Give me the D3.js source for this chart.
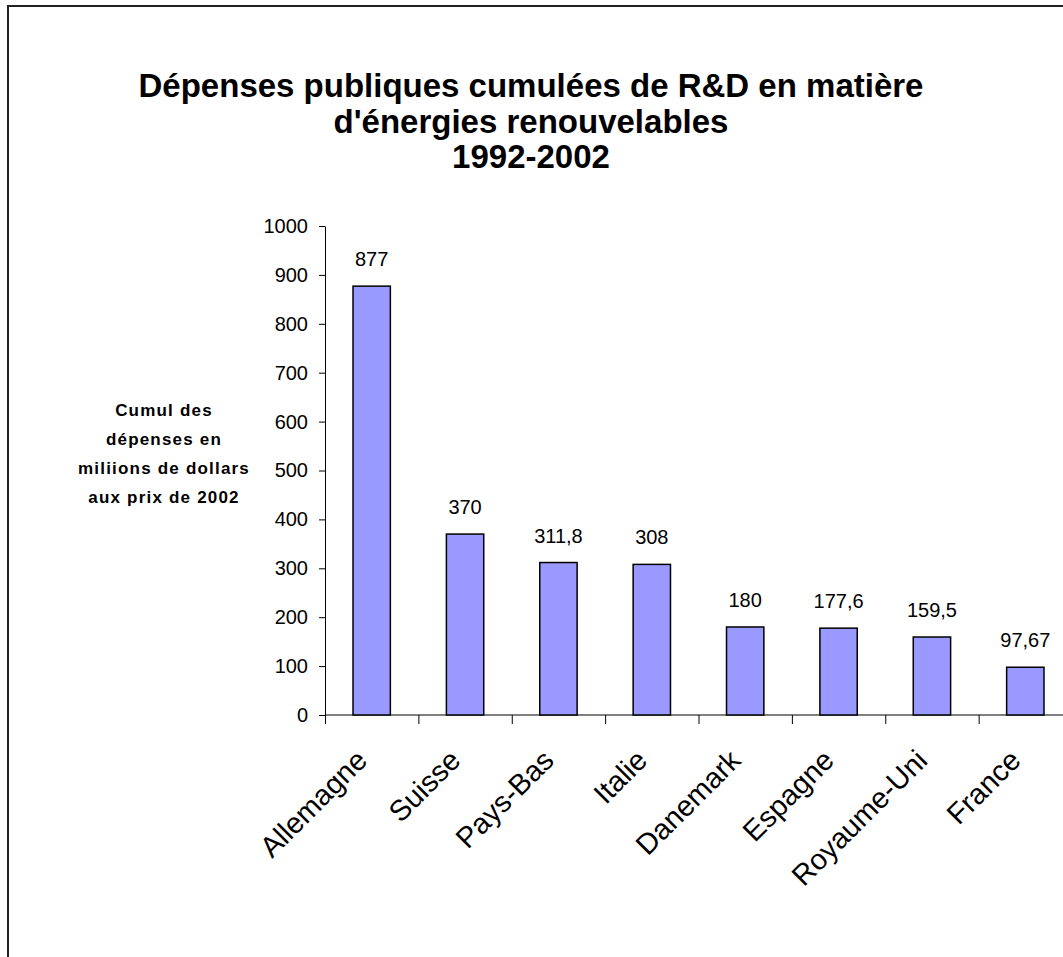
<!DOCTYPE html>
<html>
<head>
<meta charset="utf-8">
<script src="https://cdn.jsdelivr.net/npm/d3@7"></script>
<style>
  html, body { margin: 0; background: #fff; overflow: hidden; }
  svg { display: block; overflow: hidden; font-family: Arial, "Liberation Sans", sans-serif; }
</style>
</head>
<body>
<svg id="chart"></svg>
<script>
// data
const countries = ['Allemagne', 'Suisse', 'Pays-Bas', 'Italie', 'Danemark', 'Espagne', 'Royaume-Uni', 'France'];
const spending = [877, 370, 311.8, 308, 180, 177.6, 159.5, 97.67];
const valueLabels = ['877', '370', '311,8', '308', '180', '177,6', '159,5', '97,67'];
const yTicks = [0, 100, 200, 300, 400, 500, 600, 700, 800, 900, 1000];
const titleLines = ['Dépenses publiques cumulées de R&D en matière', "d'énergies renouvelables", '1992-2002'];
const yTitleLines = ['Cumul des', 'dépenses en', 'miliions de dollars', 'aux prix de 2002'];

const width = 1063, height = 957;
const margin = {top: 226, right: -9, bottom: 242, left: 325};
const innerWidth = width - margin.left - margin.right;
const innerHeight = height - margin.top - margin.bottom;

const svg = d3.select('#chart')
    .attr('width', width)
    .attr('height', height);

// outer frame: only left and top edges show in the picture
svg.append('path')
    .attr('d', `M8,${height} V6 H${width}`)
    .attr('fill', 'none')
    .attr('stroke', '#222')
    .attr('stroke-width', 2);

// title
svg.append('text')
    .attr('text-anchor', 'middle')
    .style('font-size', '33px')
    .style('font-weight', 'bold')
    .selectAll('tspan')
    .data(titleLines)
    .join('tspan')
    .attr('x', 531)
    .attr('y', (d, i) => 97 + i * 35.5)
    .text(d => d);

const chart = svg.append('g')
    .attr('transform', `translate(${margin.left}, ${margin.top})`);

const xscale = d3.scaleBand()
    .domain(countries)
    .range([0, innerWidth])
    .paddingInner(0.6)
    .paddingOuter(0.3);

const yscale = d3.scaleLinear()
    .domain([0, 1000])
    .range([innerHeight, 0]);

// y axis
const yaxis = d3.axisLeft(yscale)
    .tickValues(yTicks)
    .tickFormat(d3.format('d'))
    .tickSize(6)
    .tickSizeOuter(0)
    .tickPadding(11);

chart.append('g')
    .call(yaxis)
    .call(g => g.selectAll('text').style('font-size', '20px').attr('fill', '#000'))
    .call(g => g.selectAll('line, path').attr('stroke', '#000'));

// x axis line + ticks at category boundaries
chart.append('line')
    .attr('x1', 0)
    .attr('x2', innerWidth)
    .attr('y1', yscale(0))
    .attr('y2', yscale(0))
    .attr('stroke', '#000');

const step = xscale.step();
chart.append('g')
    .selectAll('line')
    .data(countries)
    .join('line')
    .attr('x1', d => xscale(d) - step * 0.3 + 0.5)
    .attr('x2', d => xscale(d) - step * 0.3 + 0.5)
    .attr('y1', yscale(0))
    .attr('y2', yscale(0) + 9)
    .attr('stroke', '#000');

// bars
chart.selectAll('.bar')
    .data(countries)
    .join('rect')
    .attr('class', 'bar')
    .attr('x', d => xscale(d))
    .attr('y', (d, i) => yscale(spending[i]))
    .attr('width', xscale.bandwidth())
    .attr('height', (d, i) => yscale(0) - yscale(spending[i]))
    .attr('fill', '#9999ff')
    .attr('stroke', '#000')
    .attr('stroke-width', 1.5);

// value labels
chart.selectAll('.value')
    .data(countries)
    .join('text')
    .attr('class', 'value')
    .attr('x', d => xscale(d) + xscale.bandwidth() / 2)
    .attr('y', (d, i) => yscale(spending[i]) - 20)
    .attr('text-anchor', 'middle')
    .style('font-size', '20px')
    .text((d, i) => valueLabels[i]);

// category labels, rotated
chart.selectAll('.cat')
    .data(countries)
    .join('text')
    .attr('class', 'cat')
    .attr('transform', d => `translate(${xscale(d) + xscale.bandwidth() / 2 - 10}, ${yscale(0) + 40}) rotate(-45)`)
    .attr('text-anchor', 'end')
    .attr('dy', '0.35em')
    .style('font-size', '29px')
    .text(d => d);

// y axis title
svg.append('text')
    .attr('text-anchor', 'middle')
    .style('font-size', '17px')
    .style('font-weight', 'bold')
    .style('letter-spacing', '1.2px')
    .selectAll('tspan')
    .data(yTitleLines)
    .join('tspan')
    .attr('x', 164)
    .attr('y', (d, i) => 416 + i * 29)
    .text(d => d);
</script>
</body>
</html>
